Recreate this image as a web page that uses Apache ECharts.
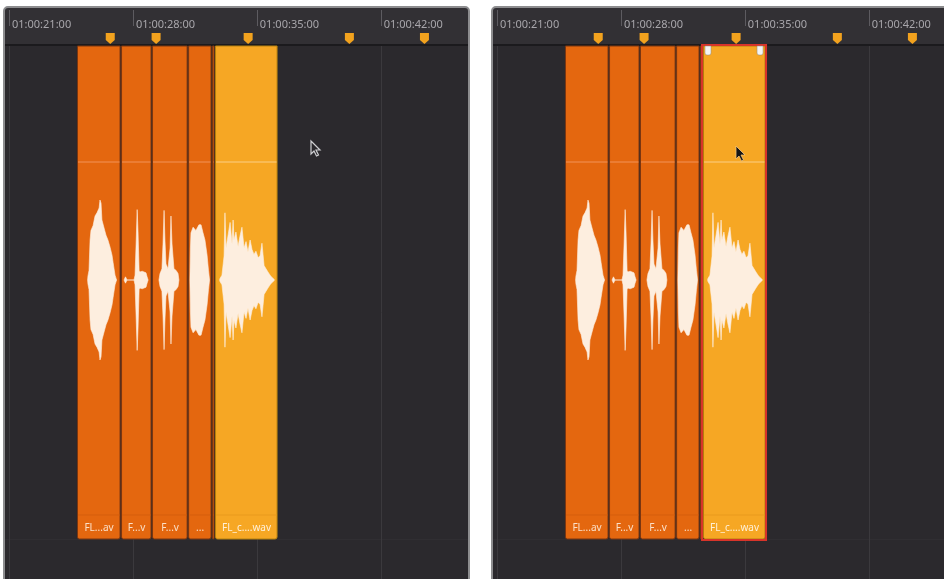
<!DOCTYPE html>
<html>
<head>
<meta charset="utf-8">
<script src="https://cdn.jsdelivr.net/npm/echarts@6/dist/echarts.min.js"></script>
<style>
  html, body { margin: 0; padding: 0; background: #fff; }
  #timeline { width: 944px; height: 579px; }
</style>
</head>
<body>
<div id="timeline"></div>
<script>
// ruler ticks, seconds after 01:00:00
var tickSeconds = [21, 28, 35, 42]
// clips on the audio track (seconds)
var clipStarts = [24.84, 27.33, 29.08, 31.12, 32.47, 32.64]
var clipEnds = [27.33, 29.08, 31.12, 32.47, 32.64, 36.20]
var clipNames = ['FL...av', 'F...v', 'F...v', '...', '', 'FL_c....wav']
var selectedClip = 5
// timeline markers (seconds)
var markerSeconds = [26.72, 29.31, 34.51, 40.23, 44.47]

// waveform envelopes: [seconds, level 0-100]
var waveClip1 = [[25.44, 0], [25.46, 5], [25.52, 12], [25.58, 50], [25.63, 62], [25.75, 68], [25.86, 80],
  [25.97, 84], [26.09, 90], [26.14, 100], [26.2, 96], [26.25, 75], [26.37, 65], [26.48, 56],
  [26.59, 50], [26.71, 41], [26.82, 31], [26.88, 22], [26.99, 6], [27.05, 2], [27.08, 0]]
var waveClip2 = [[27.5, 0], [27.58, 4], [27.67, 0], [28.06, 0], [28.12, 6], [28.18, 45], [28.24, 88],
  [28.29, 60], [28.35, 12], [28.4, 10], [28.52, 11], [28.63, 10], [28.74, 9], [28.8, 4], [28.86, 0]]
var waveClip3 = [[29.47, 0], [29.53, 8], [29.64, 14], [29.7, 45], [29.76, 87], [29.81, 50], [29.87, 20],
  [29.98, 14], [30.1, 40], [30.15, 80], [30.21, 45], [30.32, 14], [30.44, 12], [30.55, 8], [30.6, 0]]
var waveClip4 = [[31.22, 0], [31.25, 40], [31.28, 59], [31.4, 66], [31.56, 62], [31.73, 69], [31.85, 69],
  [31.96, 59], [32.07, 50], [32.19, 31], [32.27, 12], [32.33, 0]]
var waveClip6 = [[32.9, 0], [32.92, 2], [33.03, 6], [33.15, 30], [33.2, 84], [33.26, 40], [33.37, 55],
  [33.49, 72], [33.6, 45], [33.66, 75], [33.71, 50], [33.82, 60], [33.94, 42], [34.05, 55],
  [34.16, 66], [34.28, 40], [34.39, 48], [34.5, 35], [34.62, 50], [34.73, 38], [34.84, 32],
  [34.95, 36], [35.07, 28], [35.18, 30], [35.29, 46], [35.41, 18], [35.52, 14], [35.63, 10],
  [35.75, 6], [35.86, 3], [35.97, 1], [36.0, 0]]
var waves = [waveClip1, waveClip2, waveClip3, waveClip4, null, waveClip6]

// layout (pixels from top of panel)
var RULER_H = 37
var CLIP_TOP = 38
var CLIP_BOTTOM = 531
var LABEL_TOP = 507
var VOLUME_Y = 154
var WAVE_Y = 272
var WAVE_SCALE = 0.8

var myChart = echarts.init(document.getElementById('timeline'))

function pad (n) {
  return (n < 10 ? '0' : '') + n
}

// panel background, ruler strip and grid lines
function renderPanel (extendRight) {
  return function (params, api) {
    var cs = params.coordSys
    var children = [
      { type: 'rect', shape: { x: cs.x, y: cs.y, width: cs.width, height: cs.height }, style: { fill: '#2b292d' } },
      { type: 'rect', shape: { x: cs.x, y: cs.y, width: cs.width, height: RULER_H }, style: { fill: '#323034' } },
      { type: 'line', shape: { x1: cs.x, y1: cs.y + RULER_H, x2: cs.x + cs.width, y2: cs.y + RULER_H }, style: { stroke: '#1b1a1d', lineWidth: 2 } },
      { type: 'line', shape: { x1: cs.x, y1: cs.y + CLIP_BOTTOM + 0.5, x2: cs.x + cs.width, y2: cs.y + CLIP_BOTTOM + 0.5 }, style: { stroke: '#302e32', lineWidth: 1 } }
    ]
    tickSeconds.forEach(function (s) {
      var x = Math.round(api.coord([s, 0])[0]) + 0.5
      // ruler tick
      children.push({ type: 'line', shape: { x1: x, y1: cs.y + 2, x2: x, y2: cs.y + 18 }, style: { stroke: '#5d5b60', lineWidth: 1 } })
      // track grid line
      children.push({ type: 'line', shape: { x1: x, y1: cs.y + RULER_H + 1, x2: x, y2: cs.y + cs.height }, style: { stroke: '#3b393d', lineWidth: 1 } })
    })
    children.push({
      type: 'rect',
      shape: { x: cs.x - 1, y: cs.y - 1, width: cs.width + 2 + (extendRight ? 20 : 0), height: cs.height + 20, r: 4 },
      style: { fill: 'none', stroke: '#8d8d8f', lineWidth: 2 }
    })
    return { type: 'group', children: children }
  }
}

function renderClip (params, api) {
  var cs = params.coordSys
  var i = api.value(2)
  var x0 = api.coord([api.value(0), 0])[0]
  var x1 = api.coord([api.value(1), 0])[0]
  var top = cs.y + CLIP_TOP
  var bottom = cs.y + CLIP_BOTTOM
  var sel = i === selectedClip
  var children = [
    {
      type: 'rect',
      shape: { x: x0 + 0.5, y: top, width: x1 - x0 - 1.5, height: bottom - top, r: [0, 0, 2, 2] },
      style: { fill: sel ? '#f6a724' : '#e4670f', stroke: sel ? '#b5800e' : '#7a3611', lineWidth: 1 }
    },
    {
      type: 'line',
      shape: { x1: x0 + 1, y1: cs.y + VOLUME_Y, x2: x1 - 1.5, y2: cs.y + VOLUME_Y },
      style: { stroke: sel ? '#fbcf85' : '#f29358', lineWidth: 1 }
    },
    {
      type: 'line',
      shape: { x1: x0 + 1, y1: cs.y + LABEL_TOP, x2: x1 - 1.5, y2: cs.y + LABEL_TOP },
      style: { stroke: sel ? '#e99a1d' : '#d55e0c', lineWidth: 1 }
    }
  ]
  if (clipNames[i]) {
    children.push({
      type: 'text',
      style: {
        x: (x0 + x1) / 2,
        y: cs.y + (LABEL_TOP + CLIP_BOTTOM) / 2 + 1,
        text: clipNames[i],
        fill: sel ? '#fff0d8' : '#fbe0c8',
        font: '10px "Noto Sans"',
        align: 'center',
        verticalAlign: 'middle'
      }
    })
  }
  var w = waves[i]
  if (w) {
    var cy = cs.y + WAVE_Y
    var upper = w.map(function (p) { return [api.coord([p[0], 0])[0], cy - p[1] * WAVE_SCALE] })
    var lower = w.slice().reverse().map(function (p) { return [api.coord([p[0], 0])[0], cy + p[1] * WAVE_SCALE] })
    children.push({
      type: 'polygon',
      shape: { points: upper.concat(lower) },
      style: { fill: '#fdeedf', stroke: '#fdeedf', lineWidth: 0.6 }
    })
  }
  return { type: 'group', children: children }
}

function renderMarker (params, api) {
  var cs = params.coordSys
  var x = api.coord([api.value(0), 0])[0]
  var y = cs.y + 25
  return {
    type: 'polygon',
    shape: { points: [[x - 4.5, y], [x + 4.5, y], [x + 4.5, y + 7], [x, y + 11], [x - 4.5, y + 7]] },
    style: { fill: '#f2a21e' }
  }
}

// red selection frame with trim handles
function renderSelection (params, api) {
  var cs = params.coordSys
  var x0 = api.coord([api.value(0), 0])[0]
  var x1 = api.coord([api.value(1), 0])[0]
  var top = cs.y + CLIP_TOP
  var bottom = cs.y + CLIP_BOTTOM
  return {
    type: 'group',
    children: [
      { type: 'rect', shape: { x: x0 - 1, y: top - 1, width: x1 - x0 + 1, height: bottom - top + 2 }, style: { fill: 'none', stroke: '#d8342a', lineWidth: 2 } },
      { type: 'rect', shape: { x: x0 + 2, y: top, width: 6, height: 9, r: [0, 0, 2, 2] }, style: { fill: '#f4f4f4', stroke: '#8a8a8a', lineWidth: 0.5 } },
      { type: 'rect', shape: { x: x1 - 9, y: top, width: 6, height: 9, r: [0, 0, 2, 2] }, style: { fill: '#f4f4f4', stroke: '#8a8a8a', lineWidth: 0.5 } }
    ]
  }
}

function makeXAxis (gridIndex, max) {
  return {
    gridIndex: gridIndex,
    type: 'value',
    position: 'top',
    min: 20.774,
    max: max,
    z: 10,
    axisLine: { show: false },
    splitLine: { show: false },
    axisTick: { show: false },
    axisLabel: {
      show: true,
      inside: true,
      customValues: tickSeconds,
      margin: 17,
      align: 'left',
      verticalAlign: 'middle',
      padding: [0, 0, 0, 3],
      color: '#a8a6ab',
      fontFamily: 'Noto Sans',
      fontSize: 11,
      formatter: function (v) {
        return '01:00:' + pad(Math.round(v)) + ':00'
      }
    }
  }
}

function makeYAxis (gridIndex) {
  return { gridIndex: gridIndex, type: 'value', min: 0, max: 1, show: false }
}

var clipData = clipStarts.map(function (s, i) { return [s, clipEnds[i], i] })
var markerData = markerSeconds.map(function (s) { return [s] })

var option = {
  animation: false,
  backgroundColor: '#ffffff',
  grid: [
    { left: 5, top: 8, width: 463, height: 571, outerBoundsMode: 'none' },
    { left: 493, top: 8, width: 451, height: 571, outerBoundsMode: 'none' }
  ],
  xAxis: [makeXAxis(0, 46.93), makeXAxis(1, 46.255)],
  yAxis: [makeYAxis(0), makeYAxis(1)],
  series: [
    { type: 'custom', xAxisIndex: 0, yAxisIndex: 0, data: [[20.774]], encode: { x: 0 }, renderItem: renderPanel(false), silent: true },
    { type: 'custom', xAxisIndex: 1, yAxisIndex: 1, data: [[20.774]], encode: { x: 0 }, renderItem: renderPanel(true), silent: true },
    { type: 'custom', xAxisIndex: 0, yAxisIndex: 0, data: clipData, encode: { x: [0, 1] }, renderItem: renderClip },
    { type: 'custom', xAxisIndex: 1, yAxisIndex: 1, data: clipData, encode: { x: [0, 1] }, renderItem: renderClip },
    { type: 'custom', xAxisIndex: 0, yAxisIndex: 0, data: markerData, encode: { x: 0 }, renderItem: renderMarker },
    { type: 'custom', xAxisIndex: 1, yAxisIndex: 1, data: markerData, encode: { x: 0 }, renderItem: renderMarker },
    {
      type: 'custom', xAxisIndex: 1, yAxisIndex: 1,
      data: [[clipStarts[selectedClip], clipEnds[selectedClip]]],
      encode: { x: [0, 1] },
      renderItem: renderSelection
    }
  ],
  // mouse pointers
  graphic: [
    {
      type: 'polygon', x: 311, y: 141, z: 100,
      shape: { points: [[0, 0], [0, 13], [3, 10], [5.5, 15], [7.5, 14], [5, 9], [9, 9]] },
      style: { fill: '#2a282c', stroke: '#cfcfd2', lineWidth: 1.2 }
    },
    {
      type: 'polygon', x: 736, y: 146, z: 100,
      shape: { points: [[0, 0], [0, 13], [3, 10], [5.5, 15], [7.5, 14], [5, 9], [9, 9]] },
      style: { fill: '#151515', stroke: '#f2c27a', lineWidth: 0.8 }
    }
  ]
}

myChart.setOption(option)
</script>
</body>
</html>
